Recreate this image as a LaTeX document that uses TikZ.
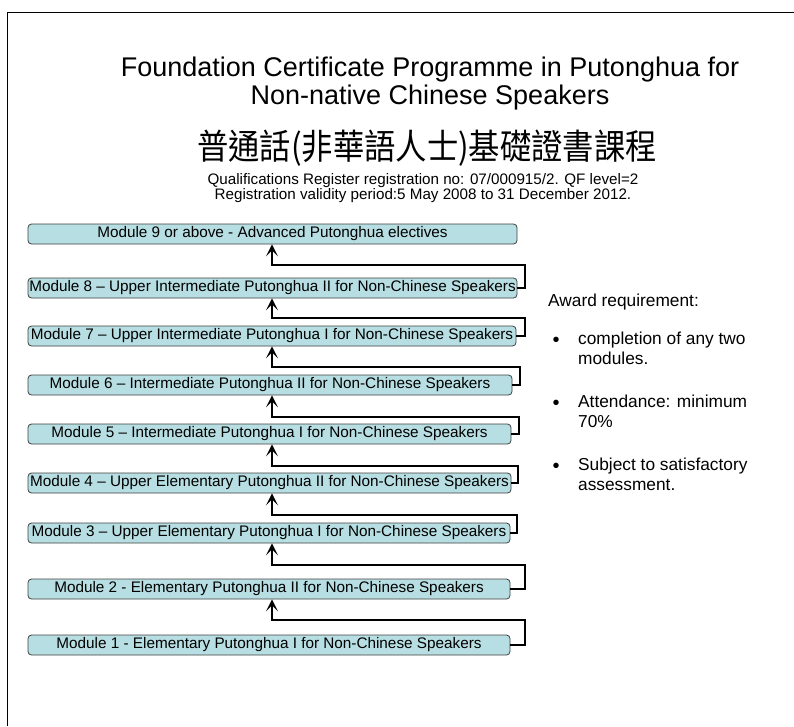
\documentclass[tikz,border=0pt]{standalone}
\usepackage{fontspec}
\setmainfont{Liberation Sans}
\newfontfamily\cjk{Noto Sans CJK TC}
\usetikzlibrary{arrows.meta}
\definecolor{boxfill}{HTML}{B7DEE2}
\definecolor{boxline}{HTML}{404040}
\tikzset{
  modbox/.style={draw=boxline, line width=0.8pt, fill=boxfill, rounded corners=3.5pt,
    minimum height=20pt, inner sep=0pt, font=\fontsize{15.3}{17}\selectfont, anchor=center},
  conn/.style={draw=black, line width=2.8pt, -{Stealth[length=12pt,width=12pt,inset=6pt]}},
  frame/.style={draw=black, line width=0.8pt},
  sidetext/.style={anchor=west, align=left, inner sep=0pt, font=\fontsize{17.3}{20}\selectfont},
  bullet/.style={anchor=center, inner sep=0pt, font=\fontsize{20}{20}\selectfont},
}
\begin{document}
\begin{tikzpicture}[x=1pt,y=-1pt]
\useasboundingbox (0,0) rectangle (794,726);
\draw[frame] (7,726) -- (7,12) -- (794,12);
% titles
\node[align=center, font=\fontsize{27}{28}\selectfont] (title) at (430,84)
  {Foundation Certificate Programme in Putonghua for\\Non-native Chinese Speakers};
\node[font=\fontsize{35}{36}\cjk] (ctitle) at (427,148) {\scalebox{0.895}[1]{普通話(非華語人士)基礎證書課程}};
\node[align=center, font=\fontsize{15.2}{14.8}\selectfont] (reg) at (423,188)
  {Qualifications Register registration no: 07/000915/2. QF level=2\\Registration validity period:5 May 2008 to 31 December 2012.};
% module boxes
\node[modbox, minimum width=489pt] (b9) at (272.5,234) {Module 9 or above - Advanced Putonghua electives};
\node[modbox, minimum width=489pt] (b8) at (272.5,288) {Module 8 -- Upper Intermediate Putonghua II for Non-Chinese Speakers};
\node[modbox, minimum width=488pt] (b7) at (272,336) {Module 7 -- Upper Intermediate Putonghua I for Non-Chinese Speakers};
\node[modbox, minimum width=484pt] (b6) at (270,385) {Module 6 -- Intermediate Putonghua II for Non-Chinese Speakers};
\node[modbox, minimum width=483pt] (b5) at (269.5,434) {Module 5 -- Intermediate Putonghua I for Non-Chinese Speakers};
\node[modbox, minimum width=483pt] (b4) at (269.5,483) {Module 4 -- Upper Elementary Putonghua II for Non-Chinese Speakers};
\node[modbox, minimum width=482pt] (b3) at (269,533) {Module 3 -- Upper Elementary Putonghua I for Non-Chinese Speakers};
\node[modbox, minimum width=482pt] (b2) at (269,589) {Module 2 - Elementary Putonghua II for Non-Chinese Speakers};
\node[modbox, minimum width=482pt] (b1) at (269,645) {Module 1 - Elementary Putonghua I for Non-Chinese Speakers};
% connectors
\draw[conn] (b8.east) -- (525,288) |- (272,265) -- (272,0 |- b9.south);
\draw[conn] (b7.east) -- (525,336) |- (272,318) -- (272,0 |- b8.south);
\draw[conn] (b6.east) -- (520,385) |- (272,367) -- (272,0 |- b7.south);
\draw[conn] (b5.east) -- (519,434) |- (272,417) -- (272,0 |- b6.south);
\draw[conn] (b4.east) -- (518,483) |- (272,466) -- (272,0 |- b5.south);
\draw[conn] (b3.east) -- (517,533) |- (272,515) -- (272,0 |- b4.south);
\draw[conn] (b2.east) -- (525,589) |- (272,565) -- (272,0 |- b3.south);
\draw[conn] (b1.east) -- (525,645) |- (272,620) -- (272,0 |- b2.south);
% award requirement
\node[sidetext] (award) at (548,302) {Award requirement:};
\node[bullet] (bu1) at (556,342) {•};
\node[sidetext, anchor=north west] (it1) at (578,332) {completion of any two\\modules.};
\node[bullet] (bu2) at (556,405) {•};
\node[sidetext, anchor=north west] (it2) at (578,395) {Attendance: minimum\\70\%};
\node[bullet] (bu3) at (556,468) {•};
\node[sidetext, anchor=north west] (it3) at (578,458) {Subject to satisfactory\\assessment.};
\end{tikzpicture}
\end{document}
